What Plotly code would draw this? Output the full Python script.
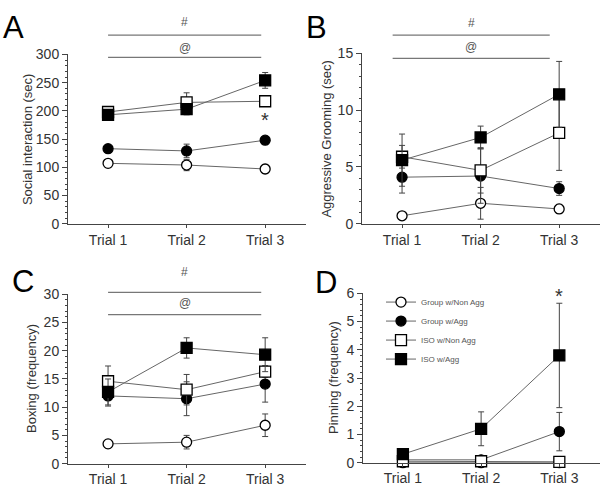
import plotly.graph_objects as go

trials = ["Trial 1", "Trial 2", "Trial 3"]
groups = ["Group w/Non Agg", "Group w/Agg", "ISO w/Non Agg", "ISO w/Agg"]

# Panel A: Social interaction (sec)
a_vals = [[107, 104, 97], [133, 129, 148], [198, 215, 217], [193, 203, 254]]
a_errs = [[5, 10, 8], [7, 12, 6], [6, 17, 7], [8, 10, 14]]
# Panel B: Aggressive Grooming (sec)
b_vals = [[0.7, 1.8, 1.3], [4.1, 4.2, 3.1], [5.9, 4.7, 8.0], [5.6, 7.6, 11.4]]
b_errs = [[0.3, 1.4, 0.4], [1.4, 2.4, 0.6], [1.0, 2.0, 3.3], [2.3, 1.0, 2.9]]
# Panel C: Boxing (frequency)
c_vals = [[3.5, 3.8, 6.8], [12.0, 11.5, 14.1], [14.6, 13.1, 16.3], [12.7, 20.5, 19.3]]
c_errs = [[0.7, 1.2, 2.0], [1.8, 3.0, 3.2], [2.7, 2.7, 1.0], [2.3, 1.8, 3.0]]
# Panel D: Pinning (frequency)
d_vals = [[0, 0, 0], [0.1, 0.1, 1.1], [0.05, 0.05, 0.03], [0.3, 1.2, 3.8]]
d_errs = [[0, 0, 0], [0.05, 0.05, 0.68], [0, 0, 0], [0.1, 0.6, 1.85]]

symbols = ["circle", "circle", "square", "square"]
fills = ["white", "black", "white", "black"]

panels = [
    dict(key="A", vals=a_vals, errs=a_errs, yr=[0, 300], dtick=50, minor=10,
         title="Social interaction (sec)", xd=[68, 306], yd=[48, 223]),
    dict(key="B", vals=b_vals, errs=b_errs, yr=[0, 15], dtick=5, minor=1,
         title="Aggressive Grooming (sec)", xd=[362, 600], yd=[47, 223]),
    dict(key="C", vals=c_vals, errs=c_errs, yr=[0, 30], dtick=5, minor=1,
         title="Boxing (frequency)", xd=[68, 306], yd=[296, 471]),
    dict(key="D", vals=d_vals, errs=d_errs, yr=[0, 6], dtick=1, minor=0.2,
         title="Pinning (frequency)", xd=[363, 600], yd=[295, 470]),
]

W, H = 600, 490
XR = [-0.51, 2.52]
AX = "#444444"
LINE = "#666666"
TXT = "#333333"

fig = go.Figure()
layout = {}
annotations = []
shapes = []

for i, p in enumerate(panels):
    n = "" if i == 0 else str(i + 1)
    xa, ya = "x" + n, "y" + n
    for g in range(4):
        fig.add_trace(go.Scatter(
            x=trials, y=p["vals"][g], xaxis=xa, yaxis=ya,
            mode="lines+markers", name=groups[g],
            showlegend=(p["key"] == "D"), legendgroup=groups[g],
            line=dict(color=LINE, width=1),
            marker=dict(symbol=symbols[g], size=10 if symbols[g] == "circle" else 11,
                        color=fills[g], line=dict(color="black", width=1.3)),
            error_y=dict(type="data", array=p["errs"][g], color="#444444",
                         thickness=1, width=3),
            cliponaxis=False,
        ))
    layout["xaxis" + n] = dict(
        domain=[p["xd"][0] / W, p["xd"][1] / W], anchor=ya, type="category",
        range=XR, showline=True, linecolor=AX, linewidth=1, ticks="outside",
        ticklen=3, tickcolor=AX, showgrid=False, zeroline=False,
        tickfont=dict(family="Liberation Sans, Arial", size=14, color=TXT),
    )
    layout["yaxis" + n] = dict(
        domain=[1 - p["yd"][1] / H, 1 - p["yd"][0] / H], anchor=xa,
        range=p["yr"], dtick=p["dtick"], showline=True, linecolor=AX, linewidth=1,
        ticks="outside", ticklen=5, tickcolor=AX, showgrid=False, zeroline=False,
        minor=dict(dtick=p["minor"], ticks="outside", ticklen=2.5, tickcolor=AX, showgrid=False),
        tickfont=dict(family="Liberation Sans, Arial", size=14, color=TXT),
    )

# Panel letters
for lab, x, y in [("A", 1, 0), ("B", 304, 0), ("C", 10, 263), ("D", 313, 264)]:
    annotations.append(dict(text=lab, xref="paper", yref="paper", x=x / W, y=1 - y / H,
                            xanchor="left", yanchor="top", showarrow=False,
                            font=dict(family="Liberation Sans, Arial", size=31, color="black")))

# Y-axis titles
for p, cx in zip(panels, [27, 327, 32, 333]):
    cy = (p["yd"][0] + p["yd"][1]) / 2
    annotations.append(dict(text=p["title"], xref="paper", yref="paper", x=cx / W, y=1 - cy / H,
                            xanchor="center", yanchor="middle", textangle=-90, showarrow=False,
                            font=dict(family="Liberation Sans, Arial", size=13, color=TXT)))

def frac(c):
    return (c - XR[0]) / (XR[1] - XR[0])

# Significance bars (#, @) for panels A, B, C
sig = [
    ("", 0.0, 1.95, 28, 51, 14, 41, 48, 223),
    ("2", -0.12, 1.88, 28, 52, 15, 40, 47, 223),
    ("3", 0.0, 1.95, 294, 317, 273, 305, 296, 471),
]
for n, x0, x1, ly1, ly2, ty1, ty2, top, bot in sig:
    def yd(py):
        return (bot - py) / (bot - top)
    for ly, ty, sym in [(ly1, ty1, "#"), (ly2, ty2, "@")]:
        shapes.append(dict(type="line", xref="x" + n + " domain", yref="y" + n + " domain",
                           x0=frac(x0), x1=frac(x1), y0=yd(ly), y1=yd(ly),
                           line=dict(color="#777777", width=1.2)))
        annotations.append(dict(text=sym, xref="x" + n + " domain", yref="y" + n + " domain",
                                x=frac((x0 + x1) / 2), y=yd(ty), showarrow=False,
                                xanchor="center", yanchor="middle",
                                font=dict(family="Liberation Sans, Arial", size=12, color="#555555")))

# Asterisks
annotations.append(dict(text="*", xref="x", yref="y", x="Trial 3", y=183, showarrow=False,
                        font=dict(family="Liberation Sans, Arial", size=20, color="#333333")))
annotations.append(dict(text="*", xref="x4", yref="y4 domain", x="Trial 3", y=1.06, showarrow=False,
                        font=dict(family="Liberation Sans, Arial", size=20, color="#333333")))

fig.update_layout(
    **layout,
    width=W, height=H, margin=dict(l=0, r=0, t=0, b=0),
    paper_bgcolor="white", plot_bgcolor="white",
    annotations=annotations, shapes=shapes,
    legend=dict(x=381 / W, y=1 - 289 / H, xanchor="left", yanchor="top",
                bgcolor="rgba(0,0,0,0)", tracegroupgap=0,
                font=dict(family="Liberation Sans, Arial", size=8, color="#555555")),
)

fig.write_html("out.html", config={"displayModeBar": False},
               post_script="document.body.style.margin='0';document.body.style.overflow='hidden';")
